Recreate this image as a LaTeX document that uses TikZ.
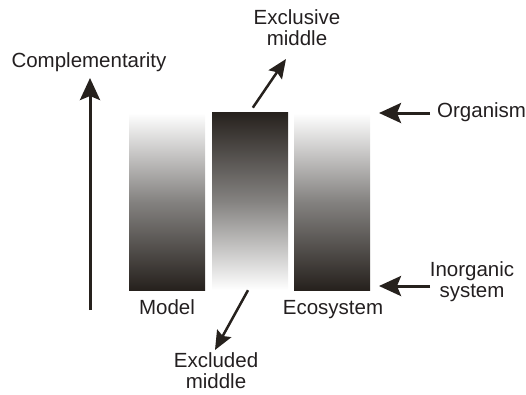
\documentclass[tikz,border=0pt]{standalone}
\usepackage{fontspec}
\setmainfont{Liberation Sans}
\usetikzlibrary{arrows.meta}
\definecolor{barDark}{RGB}{38,33,29}
\definecolor{barMid}{RGB}{132,130,128}
\definecolor{txt}{RGB}{35,31,32}
\tikzset{
  bar/.style={inner sep=0pt, minimum width=76pt, minimum height=177pt},
  lbl/.style={inner sep=0pt, align=center, text=txt},
  bigarr/.style={line width=3pt, barDark, -{Stealth[length=22pt,width=20pt,inset=4pt]}},
  diagarr/.style={line width=2.5pt, barDark, -{Stealth[length=19pt,width=16pt,inset=3pt]}}
}
\begin{document}
\begin{tikzpicture}[x=1pt,y=-1pt,font=\fontsize{20.5}{21}\selectfont]
\useasboundingbox (0,0) rectangle (526,394);
% the three bars
\node[bar, top color=white, bottom color=barDark, middle color=barMid] (lbar) at (167,201.5) {};
\node[bar, top color=barDark, bottom color=white, middle color=barMid, minimum height=178pt] (mbar) at (250,201) {};
\node[bar, top color=white, bottom color=barDark, middle color=barMid] (rbar) at (332,201.5) {};
% labels
\node[lbl, anchor=base] (compl) at (89,67) {Complementarity};
\node[lbl] (excl) at (297,28) {Exclusive\\middle};
\node[lbl] (exd) at (216,371) {Excluded\\middle};
\node[lbl, anchor=base] (model) at (167,314) {Model};
\node[lbl, anchor=base] (eco) at (333,314) {Ecosystem};
\node[lbl, anchor=base west] (org) at (437,117) {Organism};
\node[lbl] (inorg) at (472,282) {Inorganic\\system};
% arrows
\coordinate (c0) at (90,310);
\coordinate (c1) at (90,78);
\coordinate (x1) at (286,59);
\coordinate (x2) at (215,350);
\coordinate (o1) at (430,113);
\coordinate (o2) at (379,113);
\coordinate (i1) at (430,286);
\coordinate (i2) at (379,286);
\draw[bigarr] (c0)--(c1);
\draw[diagarr, shorten <=5pt] (mbar.north)--(x1);
\draw[diagarr] ([xshift=-2pt]mbar.south)--(x2);
\draw[bigarr] (o1)--(o2);
\draw[bigarr] (i1)--(i2);
\end{tikzpicture}
\end{document}
